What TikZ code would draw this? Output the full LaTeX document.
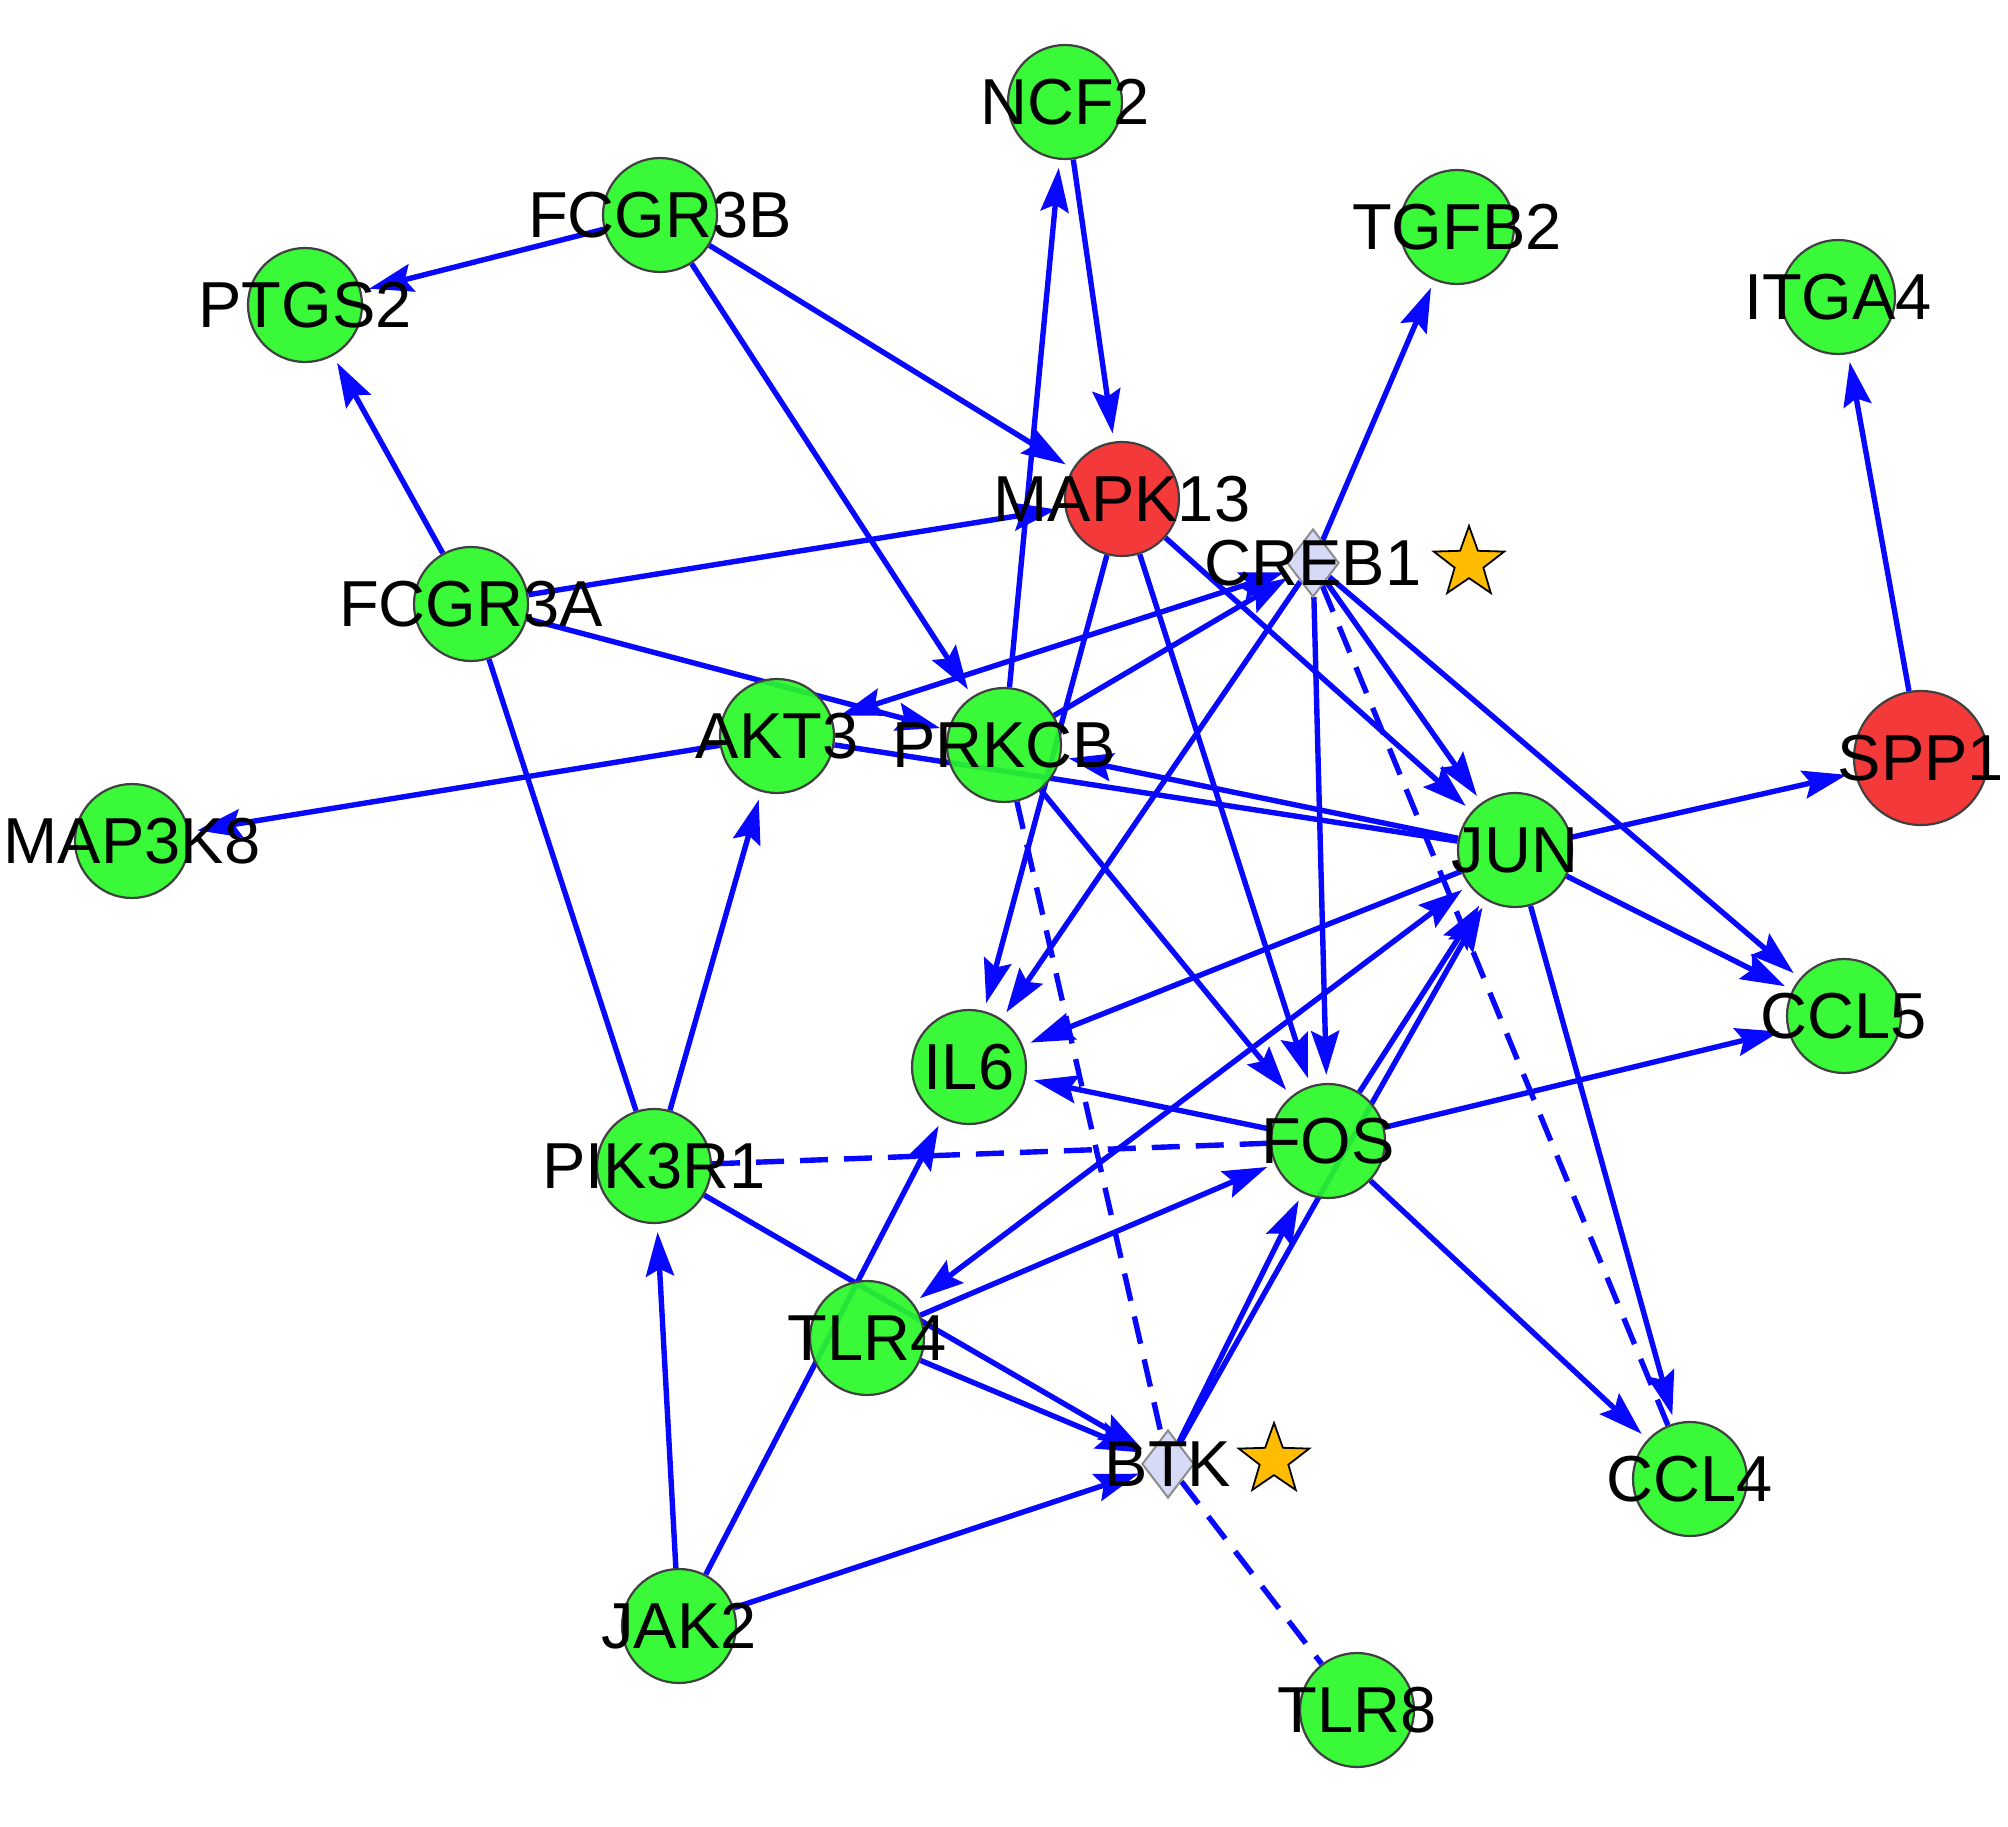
\documentclass[tikz,border=0pt]{standalone}
\usepackage{fontspec}
\setmainfont{Liberation Sans}
\usetikzlibrary{arrows.meta,shapes.geometric}
\pgfdeclarelayer{bg}
\pgfdeclarelayer{fg}
\pgfsetlayers{bg,main,fg}
\definecolor{ngreen}{RGB}{40,248,40}
\definecolor{nred}{RGB}{242,40,40}
\definecolor{eblue}{RGB}{8,8,255}
\definecolor{dlav}{RGB}{214,218,246}
\definecolor{sgold}{RGB}{255,188,0}
\tikzset{
  gnode/.style={circle, draw=black!75, line width=1.1pt, fill=ngreen, fill opacity=0.92, minimum size=57pt, inner sep=0pt},
  rnode/.style={gnode, fill=nred},
  dnode/.style={diamond, draw=black!45, line width=1pt, fill=dlav, minimum width=26pt, minimum height=34pt, inner sep=0pt},
  starnode/.style={star, star points=5, star point ratio=2.45, draw=black, line width=0.9pt, fill=sgold, minimum size=37pt, inner sep=0pt},
  lbl/.style={inner sep=0pt, text=black, font=\fontsize{32.5}{37}\selectfont},
  pln/.style={draw=eblue, line width=2.7pt},
  arr/.style={pln, -{Stealth[length=22pt,width=14pt,inset=3.5pt]}, shorten >=4pt},
  arrb/.style={pln, {Stealth[length=22pt,width=14pt,inset=3.5pt]}-{Stealth[length=22pt,width=14pt,inset=3.5pt]}, shorten >=4pt, shorten <=4pt},
  dsh/.style={pln, dash pattern=on 14pt off 8pt}
}
\begin{document}
\begin{tikzpicture}[x=0.5pt,y=-0.5pt]
\useasboundingbox (0,0) rectangle (2008,1826);
% nodes
\node[gnode] (ncf2) at (1065,102) {};
\node[gnode] (fcgr3b) at (660,215) {};
\node[gnode] (tgfb2) at (1457,227) {};
\node[gnode] (ptgs2) at (305,305) {};
\node[gnode] (itga4) at (1838,297) {};
\node[rnode] (mapk13) at (1122,499) {};
\node[dnode] (creb1) at (1313,563) {};
\node[starnode] (creb1star) at (1469,563) {};
\node[gnode] (fcgr3a) at (471,604) {};
\node[gnode] (akt3) at (777,736) {};
\node[gnode] (prkcb) at (1004,745) {};
\node[rnode, minimum size=67pt] (spp1) at (1921,758) {};
\node[gnode] (map3k8) at (132,841) {};
\node[gnode] (jun) at (1515,850) {};
\node[gnode] (ccl5) at (1844,1016) {};
\node[gnode] (il6) at (969,1067) {};
\node[gnode] (fos) at (1328,1141) {};
\node[gnode] (pik3r1) at (654,1166) {};
\node[gnode] (tlr4) at (867,1338) {};
\node[dnode] (btk) at (1168,1464) {};
\node[starnode] (btkstar) at (1274,1460) {};
\node[gnode] (ccl4) at (1690,1479) {};
\node[gnode] (jak2) at (679,1626) {};
\node[gnode] (tlr8) at (1357,1710) {};
% edges
\begin{pgfonlayer}{bg}
\draw[arr] (fcgr3b) -- (ptgs2);
\draw[arr] (fcgr3b) -- (mapk13);
\draw[arr] (fcgr3b) -- (prkcb);
\draw[arr] (ncf2) -- (mapk13);
\draw[arr] (prkcb) -- (ncf2);
\draw[arr] (fcgr3a) -- (ptgs2);
\draw[arr] (fcgr3a) -- (mapk13);
\draw[arr] (fcgr3a) -- (prkcb);
\draw[pln] (fcgr3a) -- (pik3r1);
\draw[arr] (akt3) -- (map3k8);
\draw[arrb] (akt3) -- (creb1);
\draw[pln] (jun) -- (akt3);
\draw[arr] (jun) -- (prkcb);
\draw[arr] (prkcb) -- (creb1);
\draw[arr] (prkcb) -- (fos);
\draw[dsh] (prkcb) -- (btk);
\draw[arr] (mapk13) -- (jun);
\draw[arr] (mapk13) -- (fos);
\draw[arr] (mapk13) -- (il6);
\draw[arr] (creb1) -- (tgfb2);
\draw[arr] (creb1) -- (jun);
\draw[arr] (creb1) -- (fos);
\draw[arr] (creb1) -- (il6);
\draw[arr] (creb1) -- (ccl5);
\draw[dsh] (creb1) -- (ccl4);
\draw[arr] (jun) -- (spp1);
\draw[arr] (spp1) -- (itga4);
\draw[arr] (jun) -- (ccl5);
\draw[arr] (jun) -- (ccl4);
\draw[arr] (jun) -- (il6);
\draw[arrb] (jun) -- (tlr4);
\draw[arr] (fos) -- (jun);
\draw[arr] (btk) -- (jun);
\draw[arr] (btk) -- (fos);
\draw[arr] (fos) -- (il6);
\draw[arr] (fos) -- (ccl5);
\draw[arr] (fos) -- (ccl4);
\draw[dsh] (pik3r1) -- (fos);
\draw[arr] (pik3r1) -- (akt3);
\draw[arr] (pik3r1) -- (btk);
\draw[arr] (jak2) -- (pik3r1);
\draw[arr] (jak2) -- (il6);
\draw[arr] (jak2) -- (btk);
\draw[arr] (tlr4) -- (fos);
\draw[arr] (tlr4) -- (btk);
\draw[dsh] (btk) -- (tlr8);
\end{pgfonlayer}
% labels
\begin{pgfonlayer}{fg}
\node[lbl] (ncf2L) at (ncf2) {NCF2};
\node[lbl] (fcgr3bL) at (fcgr3b) {FCGR3B};
\node[lbl] (tgfb2L) at (tgfb2) {TGFB2};
\node[lbl] (ptgs2L) at (ptgs2) {PTGS2};
\node[lbl] (itga4L) at (itga4) {ITGA4};
\node[lbl] (mapk13L) at (mapk13) {MAPK13};
\node[lbl] (creb1L) at (creb1) {CREB1};
\node[lbl] (fcgr3aL) at (fcgr3a) {FCGR3A};
\node[lbl] (akt3L) at (akt3) {AKT3};
\node[lbl] (prkcbL) at (prkcb) {PRKCB};
\node[lbl] (spp1L) at (spp1) {SPP1};
\node[lbl] (map3k8L) at (map3k8) {MAP3K8};
\node[lbl] (junL) at (jun) {JUN};
\node[lbl] (ccl5L) at (ccl5) {CCL5};
\node[lbl] (il6L) at (il6) {IL6};
\node[lbl] (fosL) at (fos) {FOS};
\node[lbl] (pik3r1L) at (pik3r1) {PIK3R1};
\node[lbl] (tlr4L) at (tlr4) {TLR4};
\node[lbl] (btkL) at (btk) {BTK};
\node[lbl] (ccl4L) at (ccl4) {CCL4};
\node[lbl] (jak2L) at (jak2) {JAK2};
\node[lbl] (tlr8L) at (tlr8) {TLR8};
\end{pgfonlayer}
\end{tikzpicture}
\end{document}
